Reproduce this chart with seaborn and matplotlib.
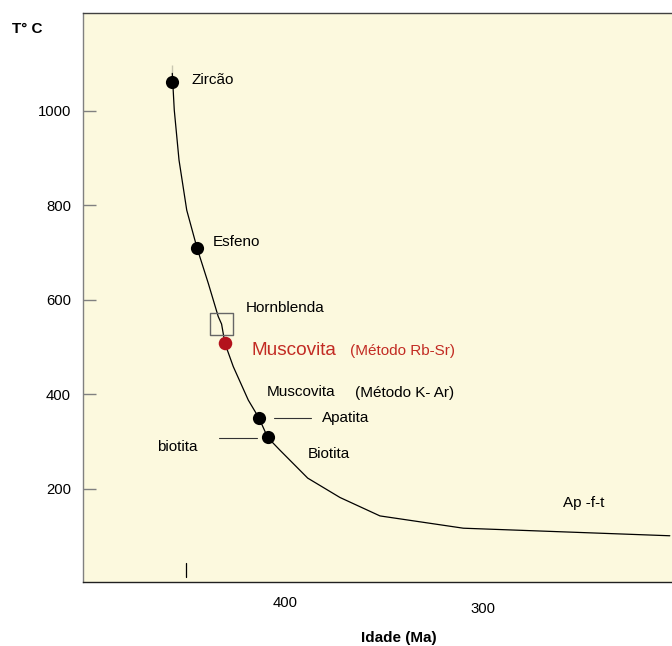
import matplotlib
matplotlib.use("Agg")
import matplotlib.pyplot as plt
import seaborn as sns
import pandas as pd

# closure temperature curve
curve_age = [456.9, 456.9, 455.9, 453.5, 449.6, 444.4, 438.7, 433.7, 432.0, 430.3,
             426.1, 418.5, 413.1, 408.7, 402.5, 388.5, 372.2, 352.0, 309.9, 205.6]
curve_temp = [1097, 1062, 1002, 896, 790, 710, 635, 565, 549, 508,
              459, 388, 350, 309, 282, 223, 182, 143, 117, 101]

# minerals on the curve
mineral_names = ["Zircão", "Esfeno", "Apatita", "Biotita"]
mineral_age = [456.9, 444.4, 413.1, 408.7]
mineral_temp = [1062, 710, 350, 309]

horn_age = [432.0]
horn_temp = [549]
musc_age = [430.3]
musc_temp = [508]

sns.set_style("white", {"axes.facecolor": "#FCF9DE"})
plt.rcParams["font.family"] = ["Liberation Sans", "DejaVu Sans"]
plt.rcParams["text.color"] = "black"
plt.rcParams["xtick.color"] = "black"
plt.rcParams["ytick.color"] = "black"
plt.rcParams["axes.labelcolor"] = "black"

fig = plt.figure(figsize=(6.72, 6.46), dpi=100)
ax = fig.add_axes([0.1235, 0.0991, 0.8765, 0.8809])

curve = pd.DataFrame({"age": curve_age, "temp": curve_temp})
sns.lineplot(data=curve, x="age", y="temp", sort=False, color="black", lw=0.9, ax=ax)

pts = pd.DataFrame({"age": mineral_age, "temp": mineral_temp, "name": mineral_names})
sns.scatterplot(data=pts, x="age", y="temp", color="black", s=90, edgecolor="black",
                linewidth=0, ax=ax, zorder=5)
sns.scatterplot(x=horn_age, y=horn_temp, marker="s", s=260, facecolor="none",
                edgecolor="#666666", linewidth=1.0, ax=ax, zorder=4)
sns.scatterplot(x=musc_age, y=musc_temp, color="#B3121C", s=95, linewidth=0,
                ax=ax, zorder=5)

# labels
fs = 11
ax.text(447.1, 1065, "Zircão", fontsize=fs, va="center")
ax.text(436.5, 723, "Esfeno", fontsize=fs, va="center")
ax.text(419.7, 582, "Hornblenda", fontsize=fs, va="center")
ax.text(416.8, 494, "Muscovita", fontsize=13.7, color="#C22B23", va="center")
ax.text(367.2, 491, "(Método Rb-Sr)", fontsize=fs, color="#C22B23", va="center")
ax.text(409.2, 406, "Muscovita", fontsize=fs, va="center")
ax.text(364.6, 404, "(Método K- Ar)", fontsize=fs, va="center")
ax.text(381.5, 351, "Apatita", fontsize=fs, va="center")
ax.text(464.8, 289, "biotita", fontsize=fs, va="center")
ax.text(388.5, 274, "Biotita", fontsize=fs, va="center")
ax.text(259.4, 170, "Ap -f-t", fontsize=fs, va="center")

# leader lines and the little mark near the bottom
ax.plot([405.6, 386.6], [351, 351], color="#333333", lw=0.8)
ax.plot([433.2, 414.3], [307, 307], color="#333333", lw=0.8)
ax.plot([450.2, 450.2], [14, 44], color="black", lw=0.9)

ax.set_xlim(502.0, 204.5)
ax.set_ylim(3.2, 1207.4)

ax.set_yticks([200, 400, 600, 800, 1000])
ax.set_xticks([400, 300])
ax.tick_params(axis="y", direction="in", length=12.7 * 0.72, width=1.0,
               color="#808080", labelcolor="black", labelsize=10.7, pad=8.6, left=True)
ax.tick_params(axis="x", length=0, labelsize=10.7, labelcolor="black", pad=10)
ax.xaxis.get_major_ticks()[1].set_pad(14.5)

ax.set_xlabel("")
ax.set_ylabel("")
fig.text(0.593, 1 - 638 / 646, "Idade (Ma)", fontsize=11, fontweight="bold",
         ha="center", va="center")
fig.text(0.018, 0.955, "T° C", fontsize=11, fontweight="bold", va="center")

ax.spines["right"].set_visible(False)
ax.spines["left"].set_color("#808080")
ax.spines["top"].set_color("#404040")
ax.spines["bottom"].set_color("#202020")
for s in ["left", "top", "bottom"]:
    ax.spines[s].set_linewidth(1.0)

fig.savefig("out.png", dpi=100)
